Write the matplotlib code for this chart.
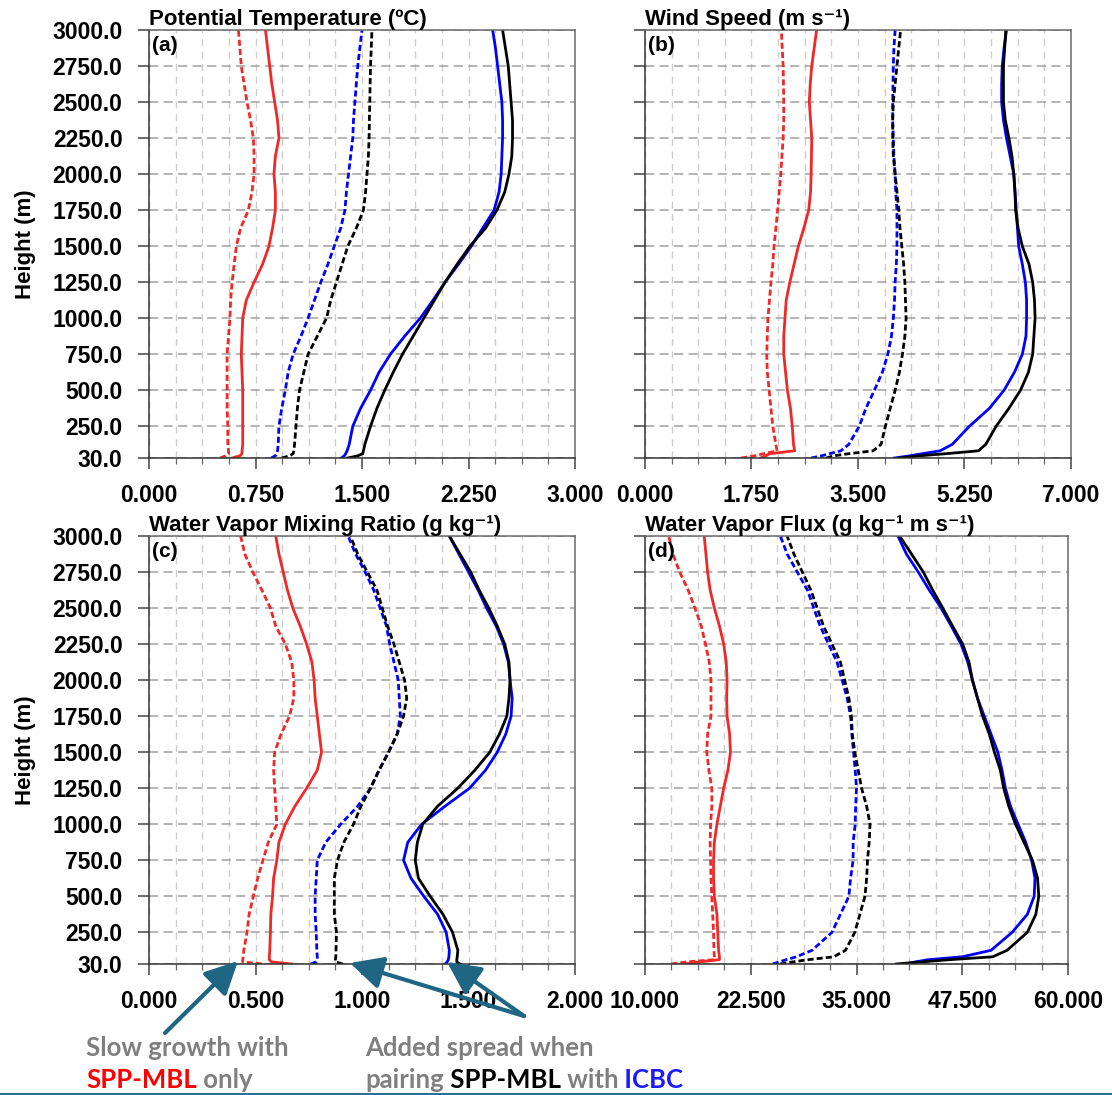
import os
import numpy as np
import matplotlib
matplotlib.use('Agg')
import matplotlib.pyplot as plt
from matplotlib.ticker import FixedLocator, FormatStrFormatter
from matplotlib.lines import Line2D
from matplotlib.patches import FancyArrowPatch

plt.rcParams['font.family'] = ['Liberation Sans', 'DejaVu Sans']

# heights (m) shared by all profiles
height = [30, 45, 60, 80, 125, 250, 375, 500, 625, 750, 875, 1000, 1125, 1250, 1375,
          1500, 1625, 1750, 1875, 2000, 2125, 2250, 2375, 2500, 2625, 2750, 2875, 3000]
yticks = [30, 250, 500, 750, 1000, 1250, 1500, 1750, 2000, 2250, 2500, 2750, 3000]

# red = SPP-MBL, blue = ICBC, black = SPP-MBL + ICBC ; dash / solid
# (a) potential temperature
theta_spp_dash = [0.50, 0.54, 0.56, 0.56, 0.555, 0.555, 0.55, 0.55, 0.55, 0.55, 0.56, 0.57, 0.575, 0.585, 0.60,
                  0.615, 0.645, 0.70, 0.725, 0.74, 0.74, 0.735, 0.715, 0.69, 0.67, 0.65, 0.64, 0.63]
theta_spp_solid = [0.585, 0.64, 0.655, 0.655, 0.66, 0.66, 0.66, 0.66, 0.655, 0.65, 0.655, 0.66, 0.685, 0.74, 0.80,
                   0.845, 0.87, 0.89, 0.89, 0.88, 0.89, 0.915, 0.905, 0.885, 0.865, 0.85, 0.835, 0.82]
theta_icbc_dash = [0.86, 0.89, 0.90, 0.905, 0.91, 0.915, 0.935, 0.96, 0.98, 1.015, 1.07, 1.12, 1.165, 1.21, 1.26,
                   1.305, 1.35, 1.38, 1.39, 1.405, 1.42, 1.435, 1.44, 1.45, 1.46, 1.47, 1.485, 1.50]
theta_both_dash = [0.935, 0.99, 1.015, 1.02, 1.025, 1.035, 1.045, 1.06, 1.09, 1.12, 1.185, 1.25, 1.28, 1.32, 1.36,
                   1.40, 1.46, 1.51, 1.525, 1.535, 1.545, 1.55, 1.552, 1.555, 1.557, 1.56, 1.565, 1.57]
theta_icbc_solid = [1.355, 1.375, 1.385, 1.395, 1.41, 1.435, 1.49, 1.56, 1.62, 1.70, 1.80, 1.91, 2.00, 2.085, 2.18,
                    2.27, 2.35, 2.43, 2.465, 2.48, 2.485, 2.49, 2.49, 2.485, 2.47, 2.455, 2.44, 2.42]
theta_both_solid = [1.40, 1.47, 1.505, 1.51, 1.52, 1.56, 1.605, 1.66, 1.72, 1.785, 1.86, 1.935, 2.01, 2.085, 2.17,
                    2.26, 2.37, 2.45, 2.505, 2.535, 2.555, 2.56, 2.56, 2.55, 2.54, 2.53, 2.51, 2.49]

# (b) wind speed
wspd_spp_dash = [1.58, 1.80, 1.95, 2.17, 2.15, 2.10, 2.07, 2.04, 2.01, 2.00, 2.01, 2.02, 2.045, 2.07, 2.10,
                 2.12, 2.15, 2.18, 2.205, 2.23, 2.25, 2.27, 2.28, 2.28, 2.275, 2.27, 2.255, 2.24]
wspd_spp_solid = [1.90, 1.98, 2.05, 2.46, 2.44, 2.42, 2.39, 2.34, 2.31, 2.28, 2.28, 2.30, 2.32, 2.38, 2.45,
                  2.52, 2.61, 2.69, 2.72, 2.73, 2.735, 2.74, 2.72, 2.70, 2.715, 2.74, 2.78, 2.82]
wspd_icbc_dash = [2.73, 2.90, 3.03, 3.22, 3.35, 3.52, 3.63, 3.77, 3.90, 3.99, 4.05, 4.08, 4.10, 4.11, 4.13,
                  4.14, 4.14, 4.14, 4.12, 4.11, 4.09, 4.08, 4.07, 4.07, 4.075, 4.08, 4.09, 4.11]
wspd_both_dash = [2.98, 3.10, 3.35, 3.75, 3.88, 3.95, 4.03, 4.11, 4.18, 4.23, 4.27, 4.29, 4.28, 4.27, 4.25,
                  4.22, 4.19, 4.17, 4.14, 4.11, 4.08, 4.07, 4.07, 4.08, 4.11, 4.14, 4.17, 4.20]
wspd_icbc_solid = [4.10, 4.35, 4.56, 4.85, 5.05, 5.33, 5.66, 5.90, 6.07, 6.20, 6.26, 6.27, 6.27, 6.25, 6.20,
                   6.14, 6.12, 6.10, 6.08, 6.06, 6.00, 5.94, 5.89, 5.86, 5.86, 5.87, 5.90, 5.94]
wspd_both_solid = [4.18, 4.50, 4.95, 5.48, 5.60, 5.77, 5.98, 6.17, 6.30, 6.37, 6.39, 6.41, 6.40, 6.37, 6.31,
                   6.20, 6.13, 6.09, 6.08, 6.06, 6.03, 5.98, 5.92, 5.89, 5.89, 5.89, 5.91, 5.93]

# (c) water vapor mixing ratio
qv_spp_dash = [0.53, 0.44, 0.44, 0.442, 0.445, 0.46, 0.47, 0.49, 0.51, 0.535, 0.56, 0.60, 0.595, 0.59, 0.585,
               0.59, 0.62, 0.66, 0.68, 0.68, 0.67, 0.64, 0.595, 0.57, 0.53, 0.487, 0.45, 0.43]
qv_spp_solid = [0.67, 0.575, 0.565, 0.565, 0.567, 0.57, 0.572, 0.58, 0.585, 0.60, 0.61, 0.64, 0.685, 0.74, 0.79,
                0.81, 0.80, 0.79, 0.78, 0.775, 0.765, 0.74, 0.71, 0.675, 0.65, 0.63, 0.61, 0.595]
qv_icbc_dash = [0.76, 0.785, 0.79, 0.79, 0.788, 0.785, 0.78, 0.78, 0.785, 0.79, 0.83, 0.90, 0.98, 1.04, 1.08,
                1.125, 1.165, 1.18, 1.175, 1.17, 1.15, 1.13, 1.115, 1.085, 1.055, 1.015, 0.97, 0.935]
qv_both_dash = [0.91, 0.875, 0.875, 0.877, 0.878, 0.88, 0.87, 0.87, 0.87, 0.885, 0.915, 0.96, 0.995, 1.04, 1.08,
                1.125, 1.165, 1.195, 1.21, 1.20, 1.175, 1.15, 1.12, 1.095, 1.07, 1.025, 0.98, 0.945]
qv_icbc_solid = [1.39, 1.40, 1.405, 1.408, 1.41, 1.395, 1.355, 1.29, 1.23, 1.195, 1.215, 1.28, 1.39, 1.505, 1.58,
                 1.635, 1.675, 1.70, 1.705, 1.695, 1.687, 1.665, 1.63, 1.585, 1.545, 1.50, 1.455, 1.41]
qv_both_solid = [1.46, 1.445, 1.445, 1.447, 1.45, 1.425, 1.38, 1.32, 1.265, 1.25, 1.26, 1.285, 1.355, 1.45, 1.53,
                 1.60, 1.645, 1.68, 1.69, 1.695, 1.69, 1.67, 1.635, 1.595, 1.55, 1.51, 1.46, 1.41]

# (d) water vapor flux
flux_spp_dash = [13.1, 15.0, 18.2, 18.2, 18.15, 18.1, 18.0, 17.9, 17.8, 17.75, 17.7, 17.75, 17.9, 17.9, 17.55,
                 17.3, 17.4, 17.8, 17.8, 17.8, 17.6, 17.15, 16.65, 15.9, 15.1, 14.1, 13.3, 12.8]
flux_spp_solid = [14.7, 16.5, 18.8, 18.8, 18.7, 18.6, 18.5, 18.2, 18.1, 18.1, 18.2, 18.5, 18.9, 19.3, 19.8,
                  20.1, 20.0, 19.7, 19.65, 19.7, 19.6, 19.3, 18.8, 18.2, 17.7, 17.4, 17.2, 17.0]
flux_icbc_dash = [25.1, 25.9, 26.7, 27.9, 29.75, 32.1, 33.1, 34.1, 34.3, 34.6, 34.6, 34.85, 34.9, 35.0, 34.85,
                  34.65, 34.45, 34.3, 33.9, 33.3, 32.7, 31.7, 30.7, 29.95, 29.2, 28.0, 26.8, 26.0]
flux_both_dash = [26.0, 27.5, 29.3, 32.3, 33.7, 34.8, 35.4, 36.0, 36.2, 36.3, 36.5, 36.6, 36.2, 35.6, 35.2,
                  34.8, 34.5, 34.4, 34.1, 33.6, 33.1, 32.1, 31.1, 30.35, 29.6, 28.6, 27.6, 26.8]
flux_icbc_solid = [40.7, 42.0, 43.5, 47.5, 50.9, 53.4, 55.2, 56.0, 56.1, 55.7, 55.0, 54.1, 53.2, 52.6, 52.2,
                   51.7, 50.9, 50.1, 49.3, 48.7, 48.15, 47.35, 46.2, 45.0, 43.6, 42.3, 40.9, 39.9]
flux_both_solid = [39.7, 42.8, 46.0, 51.1, 52.8, 55.2, 56.2, 56.55, 56.4, 55.8, 54.8, 53.8, 53.0, 52.4, 52.0,
                   51.3, 50.7, 49.9, 49.3, 48.7, 48.3, 47.55, 46.35, 45.2, 44.0, 42.9, 41.5, 40.1]

titles = ['Potential Temperature (\u00baC)', 'Wind Speed (m s\u207b\u00b9)',
          'Water Vapor Mixing Ratio (g kg\u207b\u00b9)', 'Water Vapor Flux (g kg\u207b\u00b9 m s\u207b\u00b9)']
panel_tags = ['(a)', '(b)', '(c)', '(d)']
xlims = [(0, 3), (0, 7), (0, 2), (10, 60)]
xmajor = [0.75, 1.75, 0.5, 12.5]

RED = '#f02828'
BLUE = '#0000ff'
GRAY_TXT = '#7f7f7f'
ARROW = '#1f6584'
DASH = (0, (2.2, 1.1))


def setup_axes(ax, xlim, major, title, tag, show_ylab):
    ax.set_xlim(xlim)
    ax.set_ylim(30, 3000)
    ax.xaxis.set_major_locator(FixedLocator(np.arange(xlim[0], xlim[1] + 1e-9, major)))
    ax.xaxis.set_minor_locator(FixedLocator(np.arange(xlim[0], xlim[1] + 1e-9, major / 4)))
    ax.xaxis.set_major_formatter(FormatStrFormatter('%.3f'))
    ax.yaxis.set_major_locator(FixedLocator(yticks))
    ax.yaxis.set_major_formatter(FormatStrFormatter('%.1f'))
    if not show_ylab:
        ax.set_yticklabels([])
    ax.grid(axis='x', which='both', color='#cdcdcd', ls=(0, (5, 4)), lw=1.0)
    ax.grid(axis='y', which='major', color='#a0a0a0', ls=(0, (6, 3.5)), lw=1.1)
    ax.set_axisbelow(True)
    ax.tick_params(axis='both', which='major', direction='out', length=8, width=1.1,
                   color='#444444', labelsize=16.5, pad=11)
    ax.tick_params(axis='x', which='minor', direction='out', length=4, width=0.9, color='#666666')
    for lab in ax.get_xticklabels() + ax.get_yticklabels():
        lab.set_fontweight('bold')
    for s in ax.spines.values():
        s.set_color('#6a6a6a')
        s.set_linewidth(1.1)
    ax.spines['bottom'].set_color('#333333')
    ax.spines['left'].set_color('#333333')
    ax.set_title(title, loc='left', fontsize=16, fontweight='bold', pad=3)
    ax.text(0.008, 0.985, tag, transform=ax.transAxes, ha='left', va='top',
            fontsize=15, fontweight='bold')


def draw_profiles(ax, series):
    spp_d, spp_s, icbc_d, both_d, icbc_s, both_s = series
    ax.plot(spp_d, height, color=RED, ls=DASH, lw=2)
    ax.plot(spp_s, height, color=RED, lw=2)
    ax.plot(icbc_d, height, color=BLUE, ls=DASH, lw=2)
    ax.plot(both_d, height, color='black', ls=DASH, lw=2)
    ax.plot(icbc_s, height, color=BLUE, lw=2)
    ax.plot(both_s, height, color='black', lw=2)


def colored_line(fig, x, y, parts, **kw):
    # lay out coloured pieces of one line side by side
    renderer = fig.canvas.get_renderer()
    for s, c in parts:
        t = fig.text(x, y, s, color=c, **kw)
        bb = t.get_window_extent(renderer=renderer)
        x += bb.width / fig.bbox.width


def main():
    W, H = 1112, 1095
    fig = plt.figure(figsize=(W / 100, H / 100), dpi=100)

    # axes boxes in pixels: left, right, top, bottom
    boxes = [(149, 575, 30, 458), (645, 1071, 30, 458), (149, 575, 536, 964), (645, 1068, 536, 964)]
    data = [
        [theta_spp_dash, theta_spp_solid, theta_icbc_dash, theta_both_dash, theta_icbc_solid, theta_both_solid],
        [wspd_spp_dash, wspd_spp_solid, wspd_icbc_dash, wspd_both_dash, wspd_icbc_solid, wspd_both_solid],
        [qv_spp_dash, qv_spp_solid, qv_icbc_dash, qv_both_dash, qv_icbc_solid, qv_both_solid],
        [flux_spp_dash, flux_spp_solid, flux_icbc_dash, flux_both_dash, flux_icbc_solid, flux_both_solid],
    ]
    for i in range(4):
        l, r, t, b = boxes[i]
        ax = fig.add_axes([l / W, 1 - b / H, (r - l) / W, (b - t) / H])
        setup_axes(ax, xlims[i], xmajor[i], titles[i], panel_tags[i], show_ylab=(i % 2 == 0))
        draw_profiles(ax, data[i])

    for yc in [(30 + 458) / 2, (536 + 964) / 2]:
        fig.text(25 / W, 1 - yc / H, 'Height (m)', rotation=90, ha='center', va='center',
                 fontsize=16, fontweight='bold')

    # annotation arrows (figure pixels)
    def px(x, y):
        return (x / W, 1 - y / H)
    arrow_kw = dict(arrowstyle='-|>,head_length=1.0,head_width=0.5', color=ARROW, lw=3,
                    mutation_scale=20, shrinkA=0, shrinkB=0, transform=fig.transFigure)
    fig.add_artist(FancyArrowPatch(px(165, 1033), px(238, 961), **arrow_kw))
    fig.add_artist(FancyArrowPatch(px(524, 1016), px(350, 963), **arrow_kw))
    fig.add_artist(FancyArrowPatch(px(524, 1016), px(447, 962), **arrow_kw))

    txt_kw = dict(fontsize=18.5, fontweight='bold', family=['Lato', 'DejaVu Sans'], va='center')
    colored_line(fig, 86 / W, 1 - 1048 / H, [('Slow growth with', GRAY_TXT)], **txt_kw)
    colored_line(fig, 86 / W, 1 - 1080 / H, [('SPP-MBL', '#ff0000'), (' only', GRAY_TXT)], **txt_kw)
    colored_line(fig, 365 / W, 1 - 1048 / H, [('Added spread when', GRAY_TXT)], **txt_kw)
    colored_line(fig, 365 / W, 1 - 1080 / H, [('pairing', GRAY_TXT), (' SPP-MBL', 'black'),
                                              (' with', GRAY_TXT), (' ICBC', '#1a1aff')], **txt_kw)

    fig.add_artist(Line2D([0, 1], [1.5 / H, 1.5 / H], color='#2f6f8f', lw=1.5,
                          transform=fig.transFigure))

    fig.savefig('out.png', dpi=100)
    print('saved', os.path.abspath('out.png'))


if __name__ == '__main__':
    main()
